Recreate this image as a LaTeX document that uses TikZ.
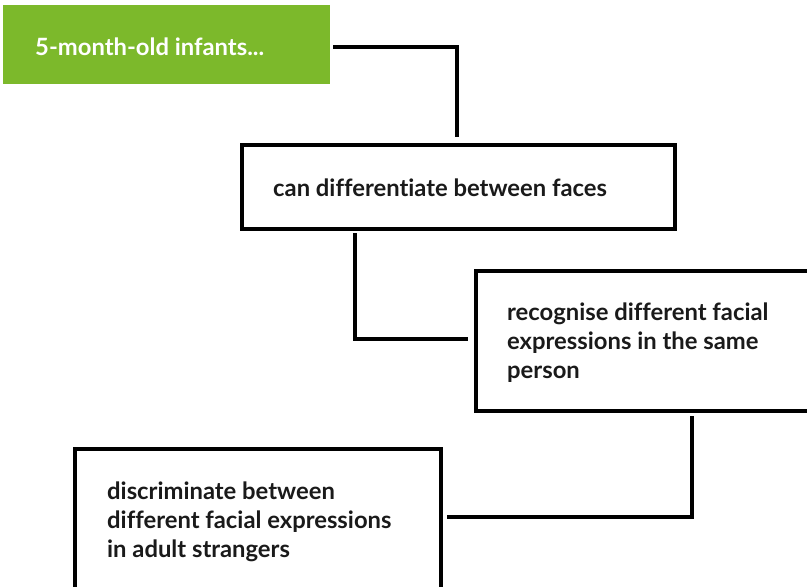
\documentclass[tikz,border=0pt]{standalone}
\usepackage{fontspec}
\setmainfont{Lato}[Ligatures={NoCommon}]
\definecolor{leafgreen}{HTML}{7CB92B}
\definecolor{inkdark}{HTML}{1A1A1A}
\begin{document}
\begin{tikzpicture}[x=1pt,y=-1pt,
  stepbox/.style={draw=black,line width=4pt,fill=white,inner sep=0pt},
  startbox/.style={fill=leafgreen,inner sep=0pt},
  label/.style={anchor=base west,inner sep=0pt,align=left,font=\bfseries\fontsize{23.8}{29}\selectfont,text=inkdark},
  link/.style={line width=4pt,draw=black}]
\useasboundingbox (0,0) rectangle (807,587);
\begin{scope}
\clip (0,0) rectangle (807,587);
% boxes
\node[startbox,minimum width=327pt,minimum height=79pt,anchor=north west] (start) at (3,5) {};
\node[stepbox,minimum width=433pt,minimum height=84pt,anchor=north west] (faces) at (240,143) {};
\node[stepbox,minimum width=345pt,minimum height=140pt,anchor=north west] (same) at (474,269) {};
\node[stepbox,minimum width=366pt,minimum height=160pt,anchor=north west] (strangers) at (73,447) {};
% texts (base anchor sits on the last line)
\node[label,text=white] (t0) at (35,55) {5-month-old infants...};
\node[label] (t1) at (273,196) {can differentiate between faces};
\node[label] (t2) at (507,378) {recognise different facial\\expressions in the same\\person};
\node[label] (t3) at (107,557) {discriminate between\\different facial expressions\\in adult strangers};
% connector ends
\coordinate (c0a) at (333,47);
\coordinate (c0b) at (457,137);
\coordinate (c1a) at (355,233);
\coordinate (c1b) at (468,339);
\coordinate (c2a) at (692,416);
\coordinate (c2b) at (447,517);
\draw[link] (c0a) -| (c0b);
\draw[link] (c1a) |- (c1b);
\draw[link] (c2a) |- (c2b);
\end{scope}
\end{tikzpicture}
\end{document}
